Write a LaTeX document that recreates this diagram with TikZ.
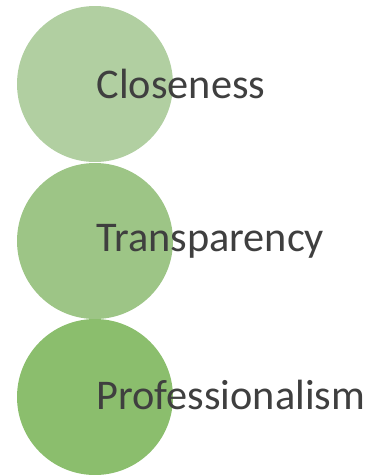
\documentclass[tikz,border=0pt]{standalone}
\usepackage{fontspec}
\setmainfont{Carlito}
\definecolor{gA}{HTML}{B1CFA1}
\definecolor{gB}{HTML}{9DC586}
\definecolor{gC}{HTML}{8BBE6D}
\definecolor{txt}{HTML}{3F3F3F}
\begin{document}
\begin{tikzpicture}[x=1pt,y=-1pt,
  bubble/.style={circle,minimum size=156pt,inner sep=0pt,draw=none},
  lbl/.style={anchor=base west,inner sep=0pt,text=txt,font=\fontsize{42.3pt}{48pt}\selectfont}]
\useasboundingbox (0,0) rectangle (367,475);
\node[bubble,fill=gA] (c1) at (95,84) {};
\node[bubble,fill=gB] (c2) at (95,241) {};
\node[bubble,fill=gC] (c3) at (95,397) {};
\node[lbl] (t1) at (96.5,98) {Closeness};
\node[lbl] (t2) at (96,251.5) {Transparency};
\node[lbl] (t3) at (96.5,409) {Professionalism};
\end{tikzpicture}
\end{document}
